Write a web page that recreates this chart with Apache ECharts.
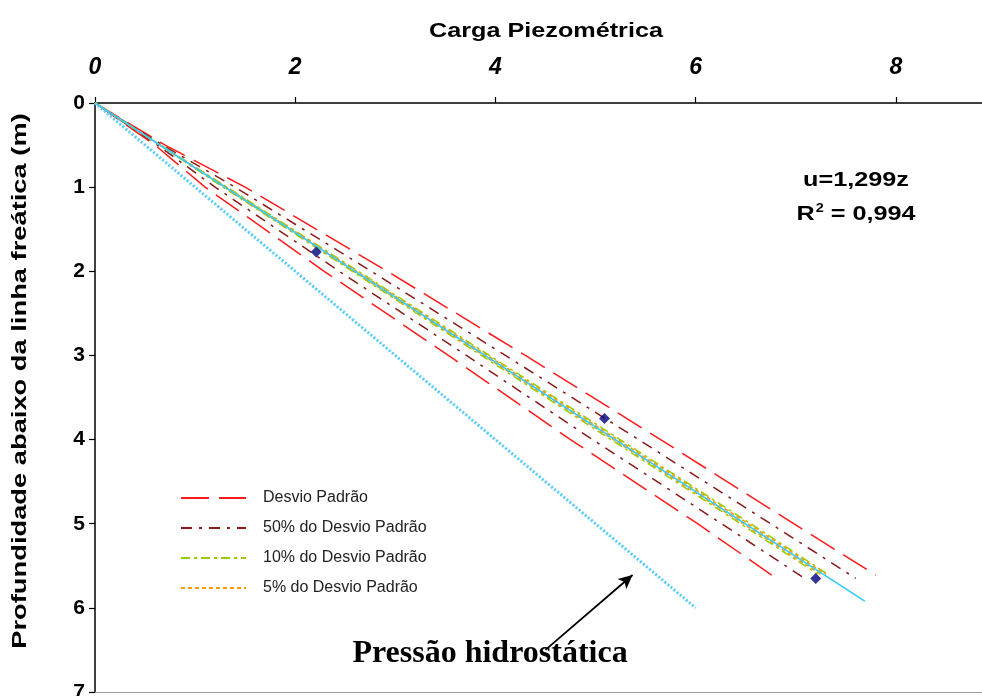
<!DOCTYPE html>
<html>
<head>
<meta charset="utf-8">
<script src="https://cdn.jsdelivr.net/npm/echarts@6/dist/echarts.min.js"></script>
<style>
  html, body { margin: 0; padding: 0; background: #fff; }
  #chart { width: 982px; height: 696px; }
</style>
</head>
<body>
<div id="chart"></div>
<script>
// Carga piezométrica (x) versus profundidade abaixo da linha freática (y, invertido)
const xTicks = [0, 2, 4, 6, 8];
const yTicks = [0, 1, 2, 3, 4, 5, 6, 7];

// Pontos medidos [carga, profundidade]
const medidos = [[2.21, 1.77], [5.09, 3.75], [7.20, 5.65]];

// Reta ajustada u = 1,299z
const ajuste = [[0, 0], [7.69, 5.92]];

// Pressão hidrostática u = z
const hidrostatica = [[0, 0], [6.0, 6.0]];

// Faixas de desvio padrão (limite superior / inferior)
const desvioSup = [[0, 0], [0.70, 0.5], [1.50, 1], [2.92, 2], [4.30, 3], [5.65, 4], [6.98, 5], [7.80, 5.61]];
const desvioInf = [[0, 0], [0.60, 0.5], [1.10, 1], [2.29, 2], [3.53, 3], [4.75, 4], [6.02, 5], [6.76, 5.61]];
const desvio50Sup = [[0, 0], [0.675, 0.5], [1.40, 1], [2.76, 2], [4.10, 3], [5.43, 4], [6.75, 5], [7.60, 5.65]];
const desvio50Inf = [[0, 0], [0.625, 0.5], [1.20, 1], [2.44, 2], [3.71, 3], [4.97, 4], [6.26, 5], [7.09, 5.65]];
const desvio10Sup = [[0, 0], [0.655, 0.5], [1.32, 1], [2.63, 2], [3.94, 3], [5.245, 4], [6.55, 5], [7.32, 5.6]];
const desvio10Inf = [[0, 0], [0.645, 0.5], [1.28, 1], [2.57, 2], [3.86, 3], [5.155, 4], [6.45, 5], [7.22, 5.6]];
const desvio5Sup = [[0, 0], [0.652, 0.5], [1.31, 1], [2.615, 2], [3.92, 3], [5.22, 4], [6.525, 5], [7.30, 5.6]];
const desvio5Inf = [[0, 0], [0.648, 0.5], [1.29, 1], [2.585, 2], [3.88, 3], [5.18, 4], [6.475, 5], [7.25, 5.6]];

// Seta da anotação: cauda e ponta [carga, profundidade]
const setaHidro = [[4.50, 6.50], [5.37, 5.61]];

const chart = echarts.init(document.getElementById('chart'), null, { renderer: 'canvas' });

const sans = 'Liberation Sans, Arial, sans-serif';
const narrow = '"Liberation Sans Narrow", "Arial Narrow", "Liberation Sans", sans-serif';

function band(name, data, color, type) {
  return {
    name: name, type: 'line', data: data, symbol: 'none', z: 2,
    lineStyle: { color: color, width: 1.5, type: type },
    itemStyle: { color: color },
    silent: true
  };
}

const option = {
  animation: false,
  backgroundColor: '#ffffff',
  grid: { left: 95, top: 103, width: 1001, height: 589, containLabel: false, outerBoundsMode: 'none' },
  xAxis: [{
    type: 'value', position: 'top', min: 0, max: 10, interval: 2,
    axisLine: { show: true, lineStyle: { color: '#000', width: 1.5 } },
    axisTick: { show: true, inside: false, length: 6, lineStyle: { color: '#000', width: 1.2 } },
    axisLabel: {
      margin: 24, color: '#000', fontFamily: narrow, fontWeight: 'bold', fontStyle: 'italic', fontSize: 23,
      formatter: v => (xTicks.indexOf(v) >= 0 ? String(v) : '')
    },
    splitLine: { show: false }
  }, {
    type: 'value', position: 'bottom', min: 0, max: 10,
    axisLine: { show: true, onZero: false, lineStyle: { color: '#999', width: 1 } },
    axisTick: { show: false }, axisLabel: { show: false }, splitLine: { show: false }
  }],
  yAxis: {
    type: 'value', inverse: true, min: 0, max: 7, interval: 1,
    axisLine: { show: true, onZero: false, lineStyle: { color: '#000', width: 1.5 } },
    axisTick: { show: true, inside: false, length: 6, lineStyle: { color: '#000', width: 1.2 } },
    axisLabel: {
      margin: 10, color: '#000', fontFamily: sans, fontWeight: 'bold', fontSize: 21,
      formatter: v => (yTicks.indexOf(v) >= 0 ? String(v) : '')
    },
    splitLine: { show: false }
  },
  legend: {
    orient: 'vertical', left: 175, top: 485, itemGap: 14, itemWidth: 65, itemHeight: 18,
    data: ['Desvio Padrão', '50% do Desvio Padrão', '10% do Desvio Padrão', '5% do Desvio Padrão'],
    itemStyle: { opacity: 0 },
    textStyle: { color: '#222', fontFamily: sans, fontSize: 16, padding: [0, 0, 0, 12] },
    selectedMode: false
  },
  graphic: [
    {
      type: 'text', x: 546, y: 31, scaleX: 1.2,
      style: { text: 'Carga Piezométrica', font: 'bold 21px Liberation Sans', fill: '#000', align: 'center', verticalAlign: 'middle' }
    },
    {
      type: 'text', x: 10, y: 381, rotation: Math.PI / 2, scaleX: 1.3,
      style: { text: 'Profundidade abaixo da linha freática (m)', font: 'bold 21px Liberation Sans', fill: '#000', align: 'center', verticalAlign: 'top' }
    },
    {
      type: 'text', x: 856, y: 180, scaleX: 1.2,
      style: { text: 'u=1,299z', font: 'bold 21px Liberation Sans', fill: '#000', align: 'center', verticalAlign: 'middle' }
    },
    {
      type: 'text', x: 856, y: 214, scaleX: 1.2,
      style: {
        text: '{b|R}{s|2}{b| = 0,994}', align: 'center', verticalAlign: 'middle',
        rich: {
          b: { font: 'bold 21px Liberation Sans', color: '#000' },
          s: { font: 'bold 12px Liberation Sans', color: '#000', verticalAlign: 'top', padding: [0, 0, 10, 1] }
        }
      }
    },
    {
      type: 'text', x: 490, y: 654,
      style: { text: 'Pressão hidrostática', font: 'bold 32px Liberation Serif', fill: '#000', align: 'center', verticalAlign: 'middle' }
    }
  ],
  series: [
    band('Desvio Padrão', desvioSup, '#ff1a1a', [28, 10]),
    band('Desvio Padrão', desvioInf, '#ff1a1a', [28, 10]),
    band('50% do Desvio Padrão', desvio50Sup, '#8b1a1a', [11, 7, 3, 7]),
    band('50% do Desvio Padrão', desvio50Inf, '#8b1a1a', [11, 7, 3, 7]),
    band('10% do Desvio Padrão', desvio10Sup, '#99cc00', [9, 4, 3, 4]),
    band('10% do Desvio Padrão', desvio10Inf, '#99cc00', [9, 4, 3, 4]),
    band('5% do Desvio Padrão', desvio5Sup, '#ff9900', [4, 3]),
    band('5% do Desvio Padrão', desvio5Inf, '#ff9900', [4, 3]),
    {
      name: 'Ajuste', type: 'line', data: ajuste, symbol: 'none', z: 3,
      lineStyle: { color: '#33ccff', width: 1.6 }, silent: true
    },
    {
      name: 'Pressão hidrostática', type: 'line', data: hidrostatica, symbol: 'none', z: 3,
      lineStyle: { color: '#55ccff', width: 3, type: [2, 2] }, silent: true,
      markLine: {
        silent: true, symbol: ['none', 'arrow'], symbolSize: [10, 14],
        label: { show: false },
        lineStyle: { color: '#000', width: 1.8, type: 'solid' },
        data: [[{ coord: setaHidro[0] }, { coord: setaHidro[1] }]]
      }
    },
    {
      name: 'Medidos', type: 'scatter', data: medidos, symbol: 'diamond', symbolSize: 11, z: 5,
      itemStyle: { color: '#000080' }, silent: true
    }
  ]
};

chart.setOption(option);
</script>
</body>
</html>
